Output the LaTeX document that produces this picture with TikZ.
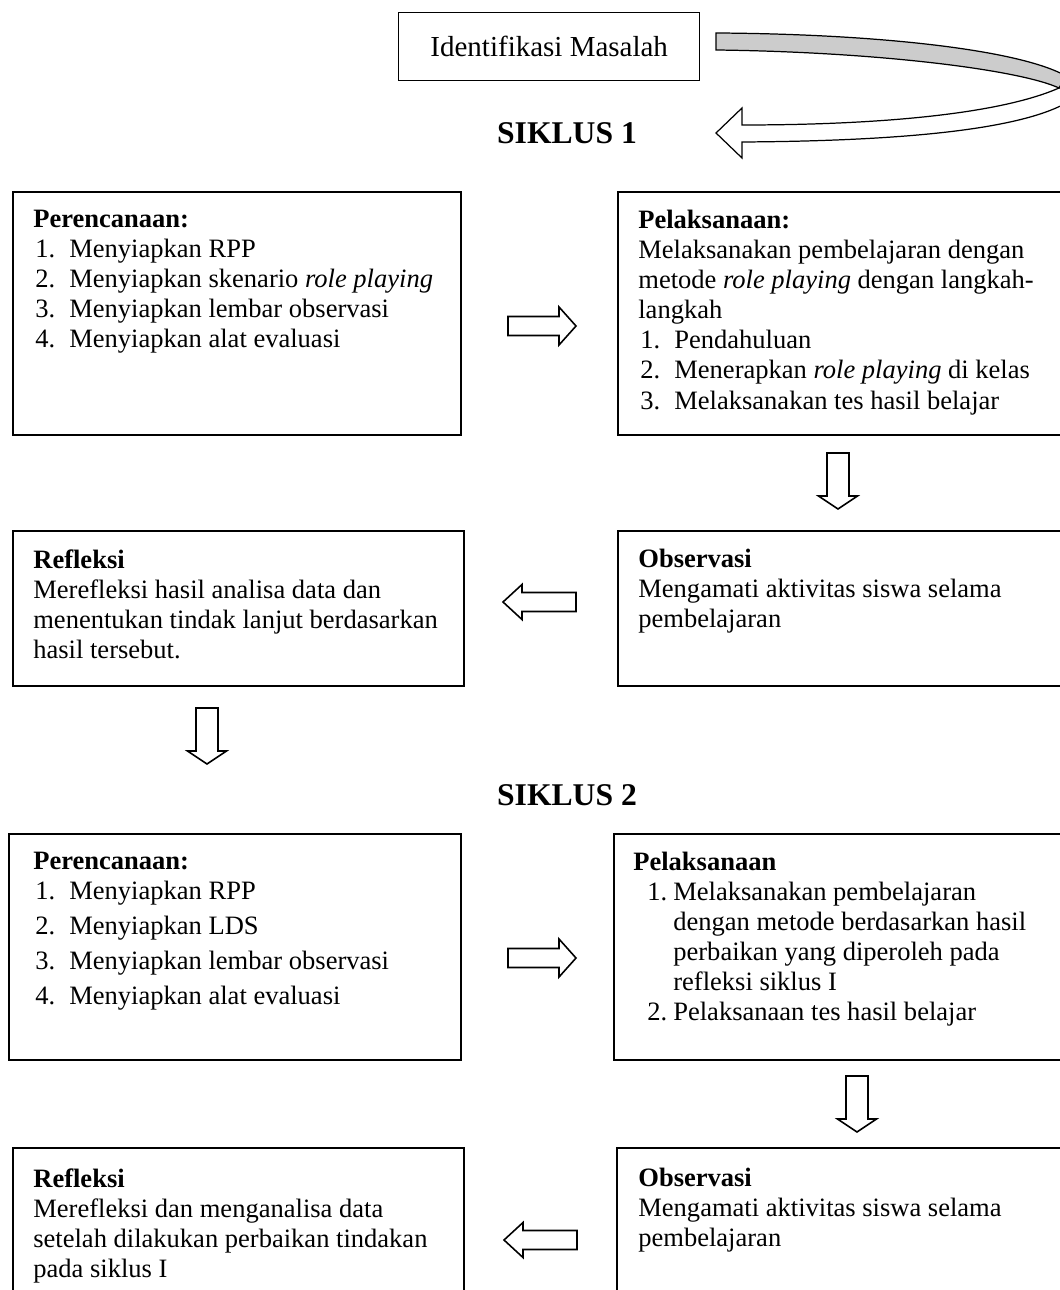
\documentclass[tikz,border=0pt]{standalone}
\usepackage{fontspec}
\setmainfont{Liberation Serif}
\usetikzlibrary{positioning}
\newlength\pxu
\setlength\pxu{0.02cm}
\def\nr#1{\hspace*{2\pxu}\makebox[34\pxu][l]{#1}}
\def\rarrow(#1){\draw[barrow] (#1) ++(0,-9.5) -- ++(51,0) -- ++(0,-9.5) -- ++(17,19) -- ++(-17,19) -- ++(0,-9.5) -- ++(-51,0) -- cycle;}
\def\larrow(#1){\draw[barrow] (#1) ++(0,-9.5) -- ++(-54,0) -- ++(0,-8) -- ++(-19,17.5) -- ++(19,17.5) -- ++(0,-8) -- ++(54,0) -- cycle;}
\def\darrow(#1){\draw[barrow] (#1) ++(-11,0) -- ++(0,43) -- ++(-8.5,0) -- ++(19.5,13) -- ++(19.5,-13) -- ++(-8.5,0) -- ++(0,-43) -- cycle;}
\tikzset{
  box/.style={draw, line width=1.1pt, rectangle, inner sep=0pt, anchor=north west},
  txt/.style={anchor=north west, inner sep=0pt, align=left,
    font=\fontsize{15.1pt}{17.1pt}\selectfont},
  barrow/.style={draw, line width=0.9pt, fill=white, line join=miter},
  siklus/.style={inner sep=0pt, font=\fontsize{18pt}{20pt}\selectfont\bfseries}
}
\begin{document}
\begin{tikzpicture}[x=0.02cm,y=-0.02cm]
\useasboundingbox (0,0) rectangle (1059,1290);
% masalah + panah lengkung
\node[box, line width=0.8pt, minimum width=301\pxu, minimum height=68\pxu,
  font=\fontsize{16.5pt}{18pt}\selectfont] (masalah) at (398,12) {Identifikasi Masalah};
\draw[line width=0.7pt, fill=black!20] (716,33) .. controls (880,34) and (1020,50) .. (1066,76)
  -- (1059,88) .. controls (1020,70) and (880,52) .. (716,50) -- cycle;
\draw[line width=0.7pt, fill=white] (1059,88) .. controls (1000,114) and (880,125) .. (742,125)
  -- (742,108) -- (716,133) -- (742,158) -- (742,142)
  .. controls (900,141) and (1020,130) .. (1068,102) -- (1070,90) -- cycle;
\node[siklus] (s1) at (567,133) {SIKLUS 1};

% siklus 1
\node[box, minimum width=448\pxu, minimum height=243\pxu] (plan1) at (12,191) {};
\node[txt] (plan1t) at ([shift={(21,19)}]plan1.north west) {%
\textbf{Perencanaan:}\\
\nr{1.}Menyiapkan RPP\\
\nr{2.}Menyiapkan skenario \textit{role playing}\\
\nr{3.}Menyiapkan lembar observasi\\
\nr{4.}Menyiapkan alat evaluasi};
\node[box, minimum width=460\pxu, minimum height=243\pxu] (act1) at (617,191) {};
\node[txt] (act1t) at ([shift={(21,19)}]act1.north west) {%
\textbf{Pelaksanaan:}\\
Melaksanakan pembelajaran dengan\\
metode \textit{role playing} dengan langkah-\\
langkah\\
\nr{1.}Pendahuluan\\
\nr{2.}Menerapkan \textit{role playing} di kelas\\
\nr{3.}Melaksanakan tes hasil belajar};
\node[box, minimum width=451\pxu, minimum height=155\pxu] (ref1) at (12,530) {};
\node[txt] (ref1t) at ([shift={(21,19)}]ref1.north west) {%
\textbf{Refleksi}\\
Merefleksi hasil analisa data dan\\
menentukan tindak lanjut berdasarkan\\
hasil tersebut.};
\node[box, minimum width=460\pxu, minimum height=155\pxu] (obs1) at (617,530) {};
\node[txt] (obs1t) at ([shift={(21,19)}]obs1.north west) {%
\textbf{Observasi}\\
Mengamati aktivitas siswa selama\\
pembelajaran};

\coordinate (ra1) at (508,326);
\coordinate (da1) at (838,453);
\coordinate (la1) at (576,602);
\coordinate (da2) at (207,708);
\rarrow(ra1)
\darrow(da1)
\larrow(la1)
\darrow(da2)

\node[siklus] (s2) at (567,795) {SIKLUS 2};

% siklus 2
\node[box, minimum width=452\pxu, minimum height=226\pxu] (plan2) at (8,833) {};
\node[txt] (plan2t) at ([shift={(25,19)}]plan2.north west) {%
\textbf{Perencanaan:}\\
\nr{1.}Menyiapkan RPP\\[5\pxu]
\nr{2.}Menyiapkan LDS\\[5\pxu]
\nr{3.}Menyiapkan lembar observasi\\[5\pxu]
\nr{4.}Menyiapkan alat evaluasi};
\node[box, minimum width=464\pxu, minimum height=226\pxu] (act2) at (613,833) {};
\node[txt] (act2t) at ([shift={(20,19)}]act2.north west) {%
\textbf{Pelaksanaan}\\
\hspace*{14\pxu}\makebox[26\pxu][l]{1.}Melaksanakan pembelajaran\\
\hspace*{40\pxu}dengan metode berdasarkan hasil\\
\hspace*{40\pxu}perbaikan yang diperoleh pada\\
\hspace*{40\pxu}refleksi siklus I\\
\hspace*{14\pxu}\makebox[26\pxu][l]{2.}Pelaksanaan tes hasil belajar};
\node[box, minimum width=451\pxu, minimum height=160\pxu] (ref2) at (12,1147) {};
\node[txt] (ref2t) at ([shift={(21,21)}]ref2.north west) {%
\textbf{Refleksi}\\
Merefleksi dan menganalisa data\\
setelah dilakukan perbaikan tindakan\\
pada siklus I};
\node[box, minimum width=460\pxu, minimum height=160\pxu] (obs2) at (616,1147) {};
\node[txt] (obs2t) at ([shift={(22,21)}]obs2.north west) {%
\textbf{Observasi}\\
Mengamati aktivitas siswa selama\\
pembelajaran};

\coordinate (ra2) at (508,958);
\coordinate (da3) at (857,1076);
\coordinate (la2) at (577,1240);
\rarrow(ra2)
\darrow(da3)
\larrow(la2)
\end{tikzpicture}
\end{document}
